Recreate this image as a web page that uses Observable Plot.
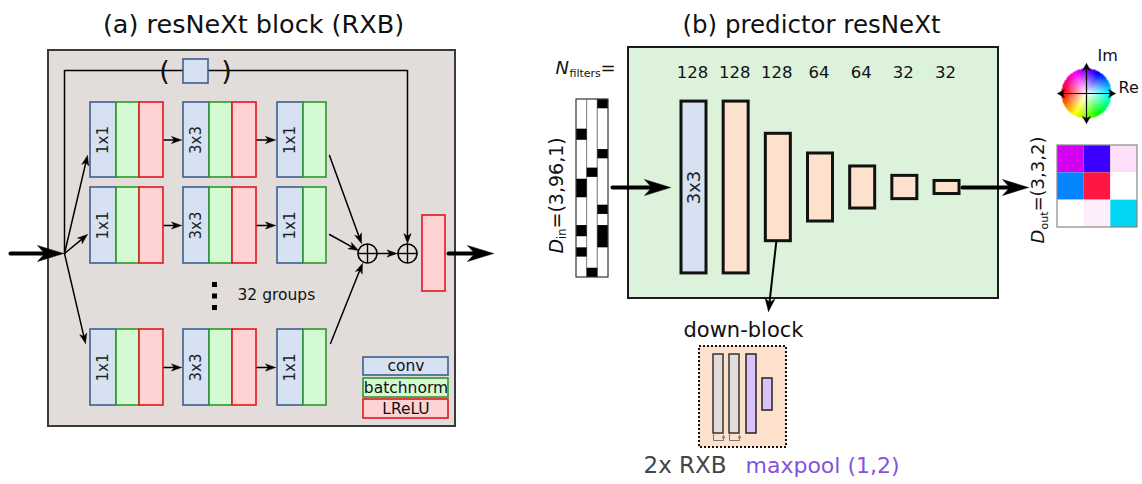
<!DOCTYPE html>
<html><head><meta charset="utf-8">
<script src="https://cdn.jsdelivr.net/npm/d3@7"></script>
<script src="https://cdn.jsdelivr.net/npm/@observablehq/plot@0.6"></script>
<style>html,body{margin:0;padding:0;background:#fff;} svg{display:block;}</style>
</head><body><div id="chart"></div>
<script>
// ================= DATA =================
const panelTitles = ["(a) resNeXt block (RXB)", "(b) predictor resNeXt"];
const layerKinds = ["conv", "batchnorm", "LReLU"];
const stageKernels = ["1x1", "3x3", "1x1"];
const stageLayerCount = [3, 3, 2];
const groupsShown = [1, 2, 32];
const groupsLabel = "32 groups";
const nFilters = [128, 128, 128, 64, 64, 32, 32];
const blockKind = ["conv", "down", "down", "down", "down", "down", "down"];
const blockLength = [96, 96, 60, 38, 23.5, 13, 7.3];
const blockKernel = ["3x3", "", "", "", "", "", ""];
const inputShape = "=(3,96,1)";
const outputShape = "=(3,3,2)";
const inputRows = 96;
const inputOnes = [[0,16,22],[0,43,53],[0,68,74],[0,80,85],[1,37,42],[1,91,96],[2,0,5],[2,27,32],[2,57,62],[2,68,80]];
const outputColors = ["#d300f2","#3b00ff","#fde0f8","#0584ff","#ff1744","#ffffff","#ffffff","#feeefb","#00d5f4"];
const downBlockParts = ["RXB", "RXB", "maxpool", "pooled"];
const downBlockLabels = ["down-block", "2x RXB", "maxpool (1,2)"];
const wheelAxes = ["Re", "Im"];

// ================= LAYOUT / STYLE =================
const W = 1142, H = 484;
const FONT = "DejaVu Sans";
const kindStyle = {
  conv: {fill: "#d6e1f2", stroke: "#3b5f8f"},
  batchnorm: {fill: "#d4fad4", stroke: "#2b9a2b"},
  LReLU: {fill: "#ffd2d4", stroke: "#e3161e"},
  down: {fill: "#fde1cc", stroke: "#111"},
  RXB: {fill: "#e2dddb", stroke: "#333"},
  maxpool: {fill: "#d9c2fa", stroke: "#222"},
  pooled: {fill: "#d9c2fa", stroke: "#222"}
};
const A = {box: [48, 50, 455, 426], rowY: [[102,177],[187,263],[329,405]], stageX: [90,183,277], layerW: [26,23,24],
  split: [64,253], sum1: [367,253], sum2: [407,253], sumR: 9.5, skipY: 70, skipBox: [183,59,208,83],
  outRect: [422,215,445,291], legend: [363, [[357,375],[378,397],[399,418]], 448]};
const B = {box: [628,47,998,298], x0: 681, step: 42.17, bw: 25, cy: 187, hScale: 1.79, labelY: 72,
  strip: [576,99,608,277], mat: [1057,145,1137,227], wheel: [1086,93,25],
  down: [699,346,786,447]};

// ================= BUILD =================
const rects = [];
const arrows = [];

// Panel (a)
rects.push({x1:A.box[0],y1:A.box[1],x2:A.box[2],y2:A.box[3],fill:"#e2dddb",stroke:"#3a3a3a",sw:2});
const aRects = [], kernelLabels = [];
groupsShown.forEach((g, r) => stageKernels.forEach((k, s) => {
  let x = A.stageX[s];
  const [y1, y2] = A.rowY[r];
  for (let i = 0; i < stageLayerCount[s]; i++) {
    const kind = layerKinds[i];
    aRects.push({x1:x, x2:x + A.layerW[i], y1, y2, ...kindStyle[kind], sw:1.6});
    if (i === 0) kernelLabels.push({x: x + A.layerW[0]/2, y: (y1+y2)/2, t: k});
    x += A.layerW[i];
  }
  if (s < 2) arrows.push({pts: [[x, (y1+y2)/2], [A.stageX[s+1] - 2, (y1+y2)/2]], cls: "thin"});
}));
aRects.push({x1:A.outRect[0],y1:A.outRect[1],x2:A.outRect[2],y2:A.outRect[3],...kindStyle.LReLU,sw:1.6});
const skipBox = {x1:A.skipBox[0],y1:A.skipBox[1],x2:A.skipBox[2],y2:A.skipBox[3],...kindStyle.conv,sw:1.6};
const legendRects = layerKinds.map((k, i) => ({x1:A.legend[0], x2:A.legend[2], y1:A.legend[1][i][0], y2:A.legend[1][i][1], ...kindStyle[k], sw:1.6, t:k}));

arrows.push({pts: [[10,253],[63,253]], cls: "thick"});
arrows.push({pts: [A.split, [87,155]], cls: "thin"});
arrows.push({pts: [A.split, [87,234]], cls: "thin"});
arrows.push({pts: [A.split, [85,343]], cls: "thin"});
arrows.push({pts: [[329,155],[361,243]], cls: "thin"});
arrows.push({pts: [[329,234],[358,250]], cls: "thin"});
arrows.push({pts: [[330,343],[362,263]], cls: "thin"});
arrows.push({pts: [[A.sum1[0]+A.sumR, 253],[A.sum2[0]-A.sumR-1, 253]], cls: "thin"});
arrows.push({pts: [A.split, [A.split[0], A.skipY], [A.sum2[0], A.skipY], [A.sum2[0], A.sum2[1]-A.sumR-0.5]], cls: "thin"});
arrows.push({pts: [[448,253],[493,253]], cls: "thick"});

// Panel (b) blocks
const bRects = nFilters.map((n, i) => {
  const cx = B.x0 + B.bw/2 + i*B.step, h = blockLength[i]*B.hScale;
  return {x1: cx - B.bw/2, x2: cx + B.bw/2, y1: B.cy - h/2, y2: B.cy + h/2, ...kindStyle[blockKind[i]], cx, n, k: blockKernel[i]};
});
arrows.push({pts: [[612,187],[670,187]], cls: "thick"});
arrows.push({pts: [[962,187],[1028,187]], cls: "thick"});
arrows.push({pts: [[bRects[2].cx - 2, bRects[2].y2], [768,311]], cls: "med"});

const colW = (B.strip[2]-B.strip[0])/3, rowH = (B.strip[3]-B.strip[1])/inputRows;
const stripCols = [0,1,2].map(c => ({x1:B.strip[0]+c*colW, x2:B.strip[0]+(c+1)*colW, y1:B.strip[1], y2:B.strip[3]}));
const stripOnes = inputOnes.map(([c,a,b]) => ({x1:B.strip[0]+c*colW, x2:B.strip[0]+(c+1)*colW, y1:B.strip[1]+a*rowH, y2:B.strip[1]+b*rowH}));

const mw = (B.mat[2]-B.mat[0])/3, mh = (B.mat[3]-B.mat[1])/3;
const matCells = outputColors.map((c, i) => ({x1:B.mat[0]+(i%3)*mw, x2:B.mat[0]+(i%3+1)*mw, y1:B.mat[1]+Math.floor(i/3)*mh, y2:B.mat[1]+(Math.floor(i/3)+1)*mh, fill:c}));

const dParts = [[713,354,723,433],[729,354,739,433],[746,354,756,433],[762,378,772,410]];
const downRects = downBlockParts.map((p, i) => ({x1:dParts[i][0],y1:dParts[i][1],x2:dParts[i][2],y2:dParts[i][3],...kindStyle[p]}));
const miniSkips = [[[713,433],[713,440],[723,440],[723,434]],[[729,433],[729,440],[739,440],[739,434]]];
miniSkips.forEach(p => arrows.push({pts: p, cls: "mini"}));

const [wx, wy, wr] = B.wheel;
arrows.push({pts: [[1057,wy],[1115,wy]], cls: "axis", both: true});
arrows.push({pts: [[wx,123],[wx,63]], cls: "axis", both: true});

// ---- arrow geometry ----
const cls = {thick:{w:4,L:26,hw:8}, med:{w:2,L:13,hw:5}, thin:{w:1.5,L:10,hw:3.6}, mini:{w:1,L:4,hw:2}, axis:{w:1.2,L:7,hw:4}};
const shafts = [], heads = [];
function head(tip, from, c, id, a) {
  const dx = tip[0]-from[0], dy = tip[1]-from[1], d = Math.hypot(dx,dy), ux = dx/d, uy = dy/d, nx = -uy, ny = ux;
  const b = [tip[0]-c.L*ux, tip[1]-c.L*uy];
  [[tip[0],tip[1]],[b[0]+c.hw*nx,b[1]+c.hw*ny],[tip[0]-0.72*c.L*ux,tip[1]-0.72*c.L*uy],[b[0]-c.hw*nx,b[1]-c.hw*ny],[tip[0],tip[1]]]
    .forEach(([x,y]) => heads.push({x,y,id,a}));
  return [tip[0]-0.6*c.L*ux, tip[1]-0.6*c.L*uy];
}
arrows.forEach((a, i) => {
  const c = cls[a.cls]; const p = a.pts.map(q => q.slice());
  const n = p.length;
  p[n-1] = head(a.pts[n-1], a.pts[n-2], c, "h"+i, a.cls);
  if (a.both) p[0] = head(a.pts[0], a.pts[1], c, "s"+i, a.cls);
  p.forEach(([x,y]) => shafts.push({x,y,id:"a"+i,a:a.cls}));
});

const plus = [A.sum1, A.sum2].flatMap(([x,y]) => [{x1:x-A.sumR,y1:y,x2:x+A.sumR,y2:y},{x1:x,y1:y-A.sumR,x2:x,y2:y+A.sumR}]);
const dots3 = [282,293.5,305].map(y => ({x1:212,x2:217,y1:y,y2:y+5}));

const wheelFill = (x, y) => {
  const dx = x - wx, dy = wy - y, r = Math.hypot(dx, dy)/wr;
  if (r > 1) return "white";
  const th = Math.atan2(dy, dx)*180/Math.PI;
  const hue = ((180 + th) % 360 + 360) % 360;
  return d3.interpolateRgb("white", d3.hsl(hue, 1, 0.5))(Math.min(1, r*1.1));
};

const R = (data, extra={}) => Plot.rect(data, {x1:"x1",x2:"x2",y1:"y1",y2:"y2",...extra});
const T = (data, extra={}) => Plot.text(data, {x:"x",y:"y",text:"t",fontFamily:FONT,...extra});

const chart = Plot.plot({
  width: W, height: H, margin: 0,
  x: {domain: [0, W], range: [0, W], axis: null},
  y: {domain: [0, H], range: [0, H], axis: null},
  color: {type: "identity"},
  style: {background: "white", fontFamily: FONT},
  marks: [
    // panel (a)
    R([rects[0]], {fill: "fill", stroke: "stroke", strokeWidth: 2}),
    Plot.line(shafts.filter(d => d.a === "thin"), {x:"x",y:"y",z:"id",stroke:"#000",strokeWidth:1.5}),
    R([skipBox], {fill:"fill", stroke:"stroke", strokeWidth:1.6}),
    T([{x:164,y:71,t:"("},{x:226,y:71,t:")"}], {fontSize: 27, fill:"#111"}),
    R(aRects, {fill:"fill", stroke:"stroke", strokeWidth:1.6}),
    T(kernelLabels, {rotate:-90, fontSize:15, fill:"#222"}),
    Plot.dot([A.sum1, A.sum2], {x: d => d[0], y: d => d[1], r: A.sumR, stroke:"#000", strokeWidth:1.6, fill:"none"}),
    Plot.link(plus, {x1:"x1",y1:"y1",x2:"x2",y2:"y2",stroke:"#000",strokeWidth:1.4}),
    R(dots3, {fill:"#000"}),
    T([{x:237,y:295,t:groupsLabel}], {fontSize:15.5, textAnchor:"start", fill:"#111"}),
    R(legendRects, {fill:"fill", stroke:"stroke", strokeWidth:1.6}),
    T(legendRects.map(d => ({x:(d.x1+d.x2)/2, y:(d.y1+d.y2)/2, t:d.t})), {fontSize:15.5, fill:"#111"}),
    // panel (b)
    R([{x1:B.box[0],y1:B.box[1],x2:B.box[2],y2:B.box[3]}], {fill:"#dcf2da", stroke:"#1a1a1a", strokeWidth:2}),
    R(bRects, {fill:"fill", stroke:"#111", strokeWidth:3}),
    T(bRects.filter(d => d.k).map(d => ({x:d.cx, y:B.cy, t:d.k})), {rotate:-90, fontSize:18, fill:"#222"}),
    T(bRects.map(d => ({x:d.cx - 1.5, y:B.labelY, t:String(d.n)})), {fontSize:16.5, fill:"#111"}),
    R(stripCols, {fill:"white", stroke:"#888", strokeWidth:1}),
    R(stripOnes, {fill:"#000"}),
    R([{x1:B.strip[0],y1:B.strip[1],x2:B.strip[2],y2:B.strip[3]}], {fill:"none", stroke:"#444", strokeWidth:1}),
    T([{x:555,y:67.5,t:"N"}], {fontSize:18, fontStyle:"italic", textAnchor:"start", fill:"#111"}),
    T([{x:569,y:73,t:"filters"}], {fontSize:11, textAnchor:"start", fill:"#111"}),
    T([{x:600,y:67.5,t:"="}], {fontSize:18, textAnchor:"start", fill:"#111"}),
    T([{x:556,y:253,t:"D"}], {fontSize:19, fontStyle:"italic", rotate:-90, textAnchor:"start", fill:"#111"}),
    T([{x:562,y:238.5,t:"in"}], {fontSize:11.5, rotate:-90, textAnchor:"start", fill:"#111"}),
    T([{x:556,y:228,t:inputShape}], {fontSize:19, rotate:-90, textAnchor:"start", fill:"#111"}),
    T([{x:1038,y:243,t:"D"}], {fontSize:18, fontStyle:"italic", rotate:-90, textAnchor:"start", fill:"#111"}),
    T([{x:1044,y:229,t:"out"}], {fontSize:11, rotate:-90, textAnchor:"start", fill:"#111"}),
    T([{x:1038,y:211,t:outputShape}], {fontSize:18, rotate:-90, textAnchor:"start", fill:"#111"}),
    R(matCells, {fill:"fill"}),
    R([{x1:B.mat[0],y1:B.mat[1],x2:B.mat[2],y2:B.mat[3]}], {fill:"none", stroke:"#888", strokeWidth:1.2}),
    Plot.raster({fill: wheelFill, x1: wx-wr-1, x2: wx+wr+1, y1: wy-wr-1, y2: wy+wr+1, width: 2*wr+2, height: 2*wr+2}),
    T([{x:1097,y:55,t:wheelAxes[1]}], {fontSize:16, textAnchor:"start", fill:"#111"}),
    T([{x:1118,y:87,t:wheelAxes[0]}], {fontSize:16, textAnchor:"start", fill:"#111"}),
    T([{x:743,y:330,t:downBlockLabels[0]}], {fontSize:21, fill:"#111"}),
    R([{x1:B.down[0],y1:B.down[1],x2:B.down[2],y2:B.down[3]}], {fill:"#fde1cc", stroke:"#111", strokeWidth:2, strokeDasharray:"2,2"}),
    R(downRects, {fill:"fill", stroke:"stroke", strokeWidth:1.5}),
    T([{x:643,y:465.5,t:downBlockLabels[1]}], {fontSize:23, textAnchor:"start", fill:"#454545"}),
    T([{x:745,y:465.5,t:downBlockLabels[2]}], {fontSize:22, textAnchor:"start", fill:"#8653dc"}),
    Plot.line(shafts.filter(d => d.a === "thick"), {x:"x",y:"y",z:"id",stroke:"#000",strokeWidth:4}),
    Plot.line(shafts.filter(d => d.a === "med"), {x:"x",y:"y",z:"id",stroke:"#000",strokeWidth:2}),
    Plot.line(shafts.filter(d => d.a === "mini"), {x:"x",y:"y",z:"id",stroke:"#777",strokeWidth:1}),
    Plot.line(shafts.filter(d => d.a === "axis"), {x:"x",y:"y",z:"id",stroke:"#000",strokeWidth:1.2}),
    Plot.line(heads.filter(d => d.a !== "mini"), {x:"x",y:"y",z:"id",fill:"#000",stroke:"#000",strokeWidth:0.5}),
    Plot.line(heads.filter(d => d.a === "mini"), {x:"x",y:"y",z:"id",fill:"#777",stroke:"none"}),
    T([{x:253,y:24.5,t:panelTitles[0]}], {fontSize:25.5, fill:"#111"}),
    T([{x:811,y:24.5,t:panelTitles[1]}], {fontSize:24.5, fill:"#111"})
  ]
});
document.getElementById("chart").appendChild(chart);
</script></body></html>
